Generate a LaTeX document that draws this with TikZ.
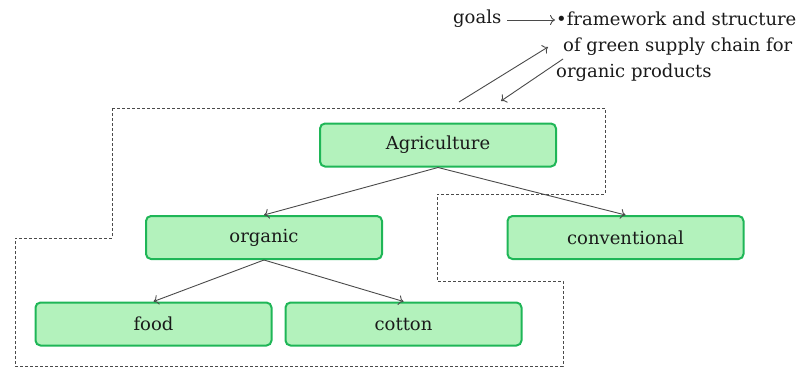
\documentclass[tikz,border=0pt]{standalone}
\usepackage{fontspec}
\setmainfont{DejaVu Serif}
\usetikzlibrary{arrows.meta}
\definecolor{boxfill}{HTML}{B3F2BC}
\definecolor{boxline}{HTML}{1FB657}
\definecolor{linegray}{HTML}{4A4A4A}
\definecolor{txtcol}{HTML}{1A1A1A}
\tikzset{
  greenbox/.style={draw=boxline, fill=boxfill, line width=2pt, rounded corners=5pt,
    minimum width=236pt, minimum height=43pt, inner sep=0pt, text=txtcol, font=\fontsize{18}{22}\selectfont},
  conn/.style={draw=linegray, line width=0.9pt, -{To[length=5pt,width=10pt]}},
  region/.style={draw=linegray, line width=0.7pt, dash pattern=on 3pt off 2pt},
  txt/.style={inner sep=0pt, text=txtcol, font=\fontsize{18}{22}\selectfont, anchor=west}
}
\begin{document}
\begin{tikzpicture}[x=1pt,y=-1pt]
\useasboundingbox (0,0) rectangle (805,367);
% dashed region
\draw[region] (112,108) -- (605,108) -- (605,194) -- (437,194) -- (437,281) -- (563,281) -- (563,366) -- (15,366) -- (15,238) -- (112,238) -- cycle;
% boxes
\node[greenbox] (agri) at (438,145) {Agriculture};
\node[greenbox] (org) at (264,237.5) {organic};
\node[greenbox] (conv) at (625.5,237.5) {conventional};
\node[greenbox] (food) at (153.5,324) {food};
\node[greenbox] (cotton) at (403.5,324) {cotton};
% connectors
\draw[conn] (agri.south) -- (org.north);
\draw[conn] (agri.south) -- (conv.north);
\draw[conn] (org.south) -- (food.north);
\draw[conn] (org.south) -- (cotton.north);
% top text
\node[txt] (goals) at (453,19) {goals};
\node[txt] (l1) at (556,19) {\textbullet framework and structure};
\node[txt] (l2) at (563,47) {of green supply chain for};
\node[txt] (l3) at (556,73) {organic products};
\coordinate (ga) at (507,20);
\coordinate (gb) at (555,20);
\draw[conn] (ga) -- (gb);
\coordinate (a1s) at (459,102);
\coordinate (a1e) at (548,47);
\coordinate (a2s) at (563,59);
\coordinate (a2e) at (501,101);
\draw[conn] (a1s) -- (a1e);
\draw[conn] (a2s) -- (a2e);
\end{tikzpicture}
\end{document}
